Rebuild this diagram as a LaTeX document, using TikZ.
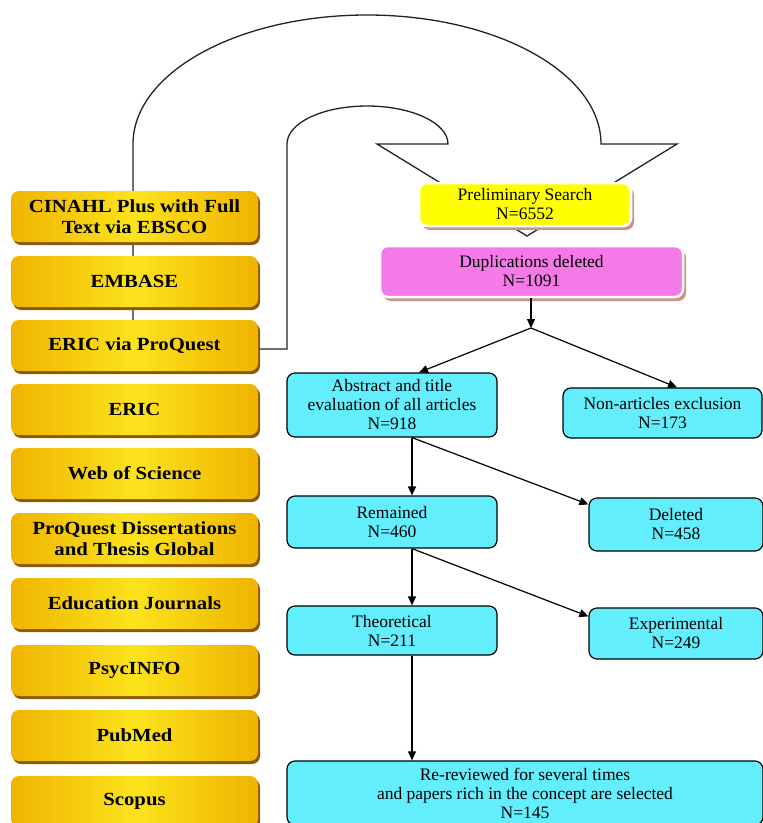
\documentclass[tikz,border=0pt]{standalone}
\usepackage{fontspec}
\setmainfont{Liberation Serif}
\newfontfamily\ybfont[FakeStretch=1.12]{Liberation Serif}
\usetikzlibrary{arrows.meta,shadows,calc}
\definecolor{gold1}{HTML}{EFB400}
\definecolor{gold2}{HTML}{FCE31C}
\definecolor{ybrown}{HTML}{8A5A10}
\definecolor{cyanbox}{HTML}{63EEFD}
\definecolor{pinkbox}{HTML}{F57AE8}
\definecolor{yelbox}{HTML}{FFFF00}
\definecolor{pshadow}{HTML}{C99588}
\definecolor{linegray}{HTML}{222222}
\tikzset{
  ybox/.style={rounded corners=8pt, minimum width=247pt, minimum height=51pt,
    inner sep=0pt, align=center, text=black,
    font=\ybfont\bfseries\fontsize{18.5}{21}\selectfont,
    left color=gold1, right color=gold1, middle color=gold2,
    drop shadow={shadow xshift=2pt, shadow yshift=-3pt, fill=ybrown, opacity=1}},
  cbox/.style={draw=black, line width=1.2pt, fill=cyanbox, rounded corners=8pt,
    align=center, inner sep=0pt, font=\fontsize{17.5}{19}\selectfont},
  topbox/.style={draw=white, line width=2.5pt, rounded corners=8pt,
    align=center, inner sep=0pt, font=\fontsize{17.5}{19}\selectfont,
    drop shadow={shadow xshift=3pt, shadow yshift=-4pt, fill=pshadow, opacity=1}},
  arr/.style={-{Triangle[length=9pt,width=8pt]}, line width=1.2pt, draw=black},
  bigarrow/.style={line width=1.3pt, draw=linegray, line join=miter}
}
\begin{document}
\begin{tikzpicture}[x=1pt,y=-1pt]
\useasboundingbox (0,0) rectangle (763,823);
\clip (0,0) rectangle (763,823);

% big U-turn arrow (drawn first, behind the boxes)
\coordinate (oA) at (133,349);
\coordinate (iA) at (287,349);
\coordinate (iB) at (258,349);
\draw[bigarrow] (oA) -- (133,144)
  .. controls (133,72.8) and (237.8,15) .. (367,15)
  .. controls (496.2,15) and (601,72.8) .. (601,144)
  -- (677,144) -- (527,236) -- (377,144) -- (448,144)
  .. controls (448,123) and (411.7,106) .. (367,106)
  .. controls (322.3,106) and (287,123) .. (287,144)
  -- (iA) -- (iB);

% database boxes
\node[ybox] (y1) at (134.5,216.5) {CINAHL Plus with Full\\Text via EBSCO};
\node[ybox] (y2) at (134.5,281.5) {EMBASE};
\node[ybox] (y3) at (134.5,345.5) {ERIC via ProQuest};
\node[ybox] (y4) at (134.5,409.5) {ERIC};
\node[ybox] (y5) at (134.5,473.5) {Web of Science};
\node[ybox] (y6) at (134.5,538.5) {ProQuest Dissertations\\and Thesis Global};
\node[ybox] (y7) at (134.5,603.5) {Education Journals};
\node[ybox] (y8) at (134.5,670.5) {PsycINFO};
\node[ybox] (y9) at (134.5,735.5) {PubMed};
\node[ybox] (y10) at (134.5,801.5) {Scopus};

% flow boxes
\node[topbox, fill=yelbox, minimum width=212pt, minimum height=43pt] (pre) at (525,204.5)
  {Preliminary Search\\N=6552};
\node[topbox, fill=pinkbox, minimum width=303pt, minimum height=51pt] (dup) at (531.5,271.5)
  {Duplications deleted\\N=1091};
\node[cbox, minimum width=210pt, minimum height=64pt] (abs) at (392,405)
  {Abstract and title\\evaluation of all articles\\N=918};
\node[cbox, minimum width=199pt, minimum height=50pt] (non) at (662.5,413)
  {Non-articles exclusion\\N=173};
\node[cbox, minimum width=210pt, minimum height=52pt] (rem) at (392,522)
  {Remained\\N=460};
\node[cbox, minimum width=174pt, minimum height=53pt] (del) at (676,524.5)
  {Deleted\\N=458};
\node[cbox, minimum width=210pt, minimum height=49pt] (theo) at (392,630.5)
  {Theoretical\\N=211};
\node[cbox, minimum width=174pt, minimum height=51pt] (exp) at (676,633.5)
  {Experimental\\N=249};
\node[cbox, minimum width=476pt, minimum height=64pt] (rer) at (525,793)
  {Re-reviewed for several times\\and papers rich in the concept are selected\\N=145};

% connectors
\coordinate (j1) at (531,328);
\coordinate (cx) at (412,0);
\coordinate (ca) at (419,0);
\coordinate (cn) at (677,0);
\draw[arr] (dup.south -| j1) -- (j1);
\draw[arr] (j1) -- (abs.north -| ca);
\draw[arr] (j1) -- (non.north -| cn);
\draw[arr] (abs.south -| cx) -- (rem.north -| cx);
\draw[arr] (abs.south -| cx) -- ([yshift=-7pt]del.north west);
\draw[arr] (rem.south -| cx) -- (theo.north -| cx);
\draw[arr] (rem.south -| cx) -- ([yshift=-9pt]exp.north west);
\draw[arr] (theo.south -| cx) -- (rer.north -| cx);
\end{tikzpicture}
\end{document}
